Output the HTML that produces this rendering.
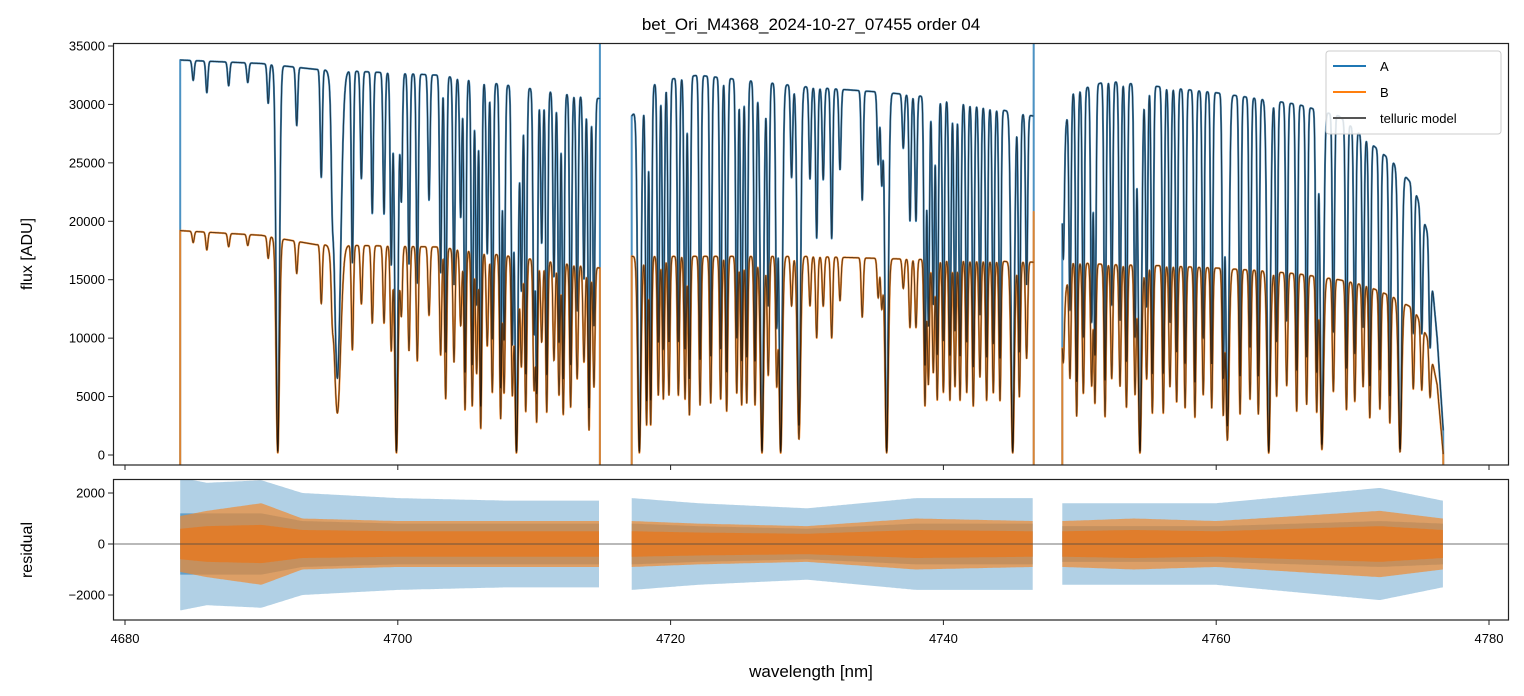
<!DOCTYPE html>
<html><head><meta charset="utf-8">
<style>
body{margin:0;background:#fff;}
svg{display:block;font-family:"Liberation Sans","DejaVu Sans",sans-serif;}
</style></head>
<body>
<svg id="chart" width="1524" height="696" viewBox="0 0 1524 696" xmlns="http://www.w3.org/2000/svg">
<defs>
<clipPath id="cTop"><rect x="113" y="43" width="1396" height="422"/></clipPath>
<clipPath id="cBot"><rect x="113" y="479" width="1396" height="141"/></clipPath>
</defs>
<rect x="0" y="0" width="1524" height="696" fill="#fff"/>
<text x="811" y="30" text-anchor="middle" font-size="17" fill="#000">bet_Ori_M4368_2024-10-27_07455  order 04</text>
<g id="topPlot" clip-path="url(#cTop)"></g>
<g id="botPlot" clip-path="url(#cBot)"></g>
<g id="axes"></g>
<text x="811" y="677" text-anchor="middle" font-size="17">wavelength [nm]</text>
<text transform="translate(32,254) rotate(-90)" text-anchor="middle" font-size="16">flux [ADU]</text>
<text transform="translate(32,550) rotate(-90)" text-anchor="middle" font-size="16">residual</text>
<g>
<rect x="1326" y="51" width="175" height="83" rx="3" fill="#fff" fill-opacity="0.85" stroke="#ccc"/>
<g><line x1="1333" y1="66" x2="1366" y2="66" stroke="#1f77b4" stroke-width="2"/><text x="1380" y="71" font-size="13">A</text></g>
<g><line x1="1333" y1="92" x2="1366" y2="92" stroke="#ff7f0e" stroke-width="2"/><text x="1380" y="97" font-size="13">B</text></g>
<g><line x1="1333" y1="118" x2="1366" y2="118" stroke="#555" stroke-width="2"/><text x="1380" y="123" font-size="13">telluric model</text></g>
</g>
</svg>
<script>
// ---- data ----
var xTicks = [4680, 4700, 4720, 4740, 4760, 4780];
var yTicksFlux = [0, 5000, 10000, 15000, 20000, 25000, 30000, 35000];
var yTicksRes = [-2000, 0, 2000];
var segStart = [4684.05, 4717.15, 4748.72];
var segEnd = [4714.82, 4746.62, 4776.65];
var contWl = [4684.05, 4690, 4694, 4703, 4714.82, 4717.15, 4719, 4722, 4730, 4736, 4740, 4746.62, 4748.72, 4749.3, 4752, 4756, 4760, 4763, 4766, 4769, 4771, 4773, 4774.5, 4775.5, 4776.2, 4776.65];
var contA = [33800, 33500, 33000, 32500, 30500, 29000, 32000, 32500, 31500, 31000, 30500, 29000, 26000, 31000, 32000, 31500, 31000, 30500, 30000, 29000, 27000, 25000, 23000, 19000, 10000, 2000];
var contB = [19200, 18800, 18000, 17800, 16000, 17000, 17000, 17000, 17000, 16800, 16700, 16500, 12000, 16500, 16300, 16200, 16000, 15800, 15500, 15000, 14500, 13500, 12500, 10000, 6000, 0];
var lineWl = [4685.0,4686.0,4687.6,4689.0,4690.5,4691.2,4692.59,4694.39,4695.20,4695.57,4696.67,4697.33,4698.13,4698.99,4699.52,4699.9,4700.26,4700.82,4701.43,4702.29,4703.14,4703.51,4704.12,4704.61,4704.93,4705.46,4705.78,4706.08,4706.56,4706.93,4707.54,4707.79,4708.40,4708.7,4709.06,4709.38,4709.99,4710.18,4710.55,4710.92,4711.45,4711.82,4712.13,4712.67,4713.15,4713.65,4714.02,4714.38,
4717.71,4718.24,4718.54,4719.1,4719.47,4719.88,4720.57,4721.06,4721.38,4722.16,4722.94,4723.67,4724.11,4724.85,4725.21,4725.58,4726.19,4726.70,4727.16,4727.78,4728.07,4728.87,4729.41,4730.22,4730.71,4731.19,4731.81,4732.42,4734.05,4735.22,4735.48,4735.84,4737.06,4737.55,4737.99,4738.65,4738.9,4739.26,4739.55,4740.0,4740.48,4740.85,4741.22,4741.71,4742.19,4742.68,4743.17,4743.66,4744.15,4745.08,4745.57,4746.1,
4748.79,4749.28,4749.77,4750.26,4750.87,4751.11,4751.85,4752.34,4752.95,4753.42,4754.05,4754.41,4754.9,4755.32,4756.12,4756.61,4757.1,4757.72,4758.44,4759.05,4759.67,4760.52,4760.82,4761.75,4762.48,4763.09,4763.85,4764.43,4765.17,4765.9,4766.63,4767.37,4767.75,4768.59,4769.55,4770.16,4770.77,4771.26,4772.0,4772.73,4773.48,4774.45,4775.07,4775.68];
var lineDepth = [0.05,0.08,0.06,0.05,0.1,0.99,0.15,0.28,0.2,0.8,0.5,0.28,0.37,0.37,0.5,0.99,0.33,0.5,0.55,0.33,0.52,0.73,0.55,0.37,0.78,0.76,0.6,0.87,0.46,0.69,0.82,0.69,0.69,0.99,0.55,0.78,0.66,0.83,0.42,0.78,0.51,0.69,0.79,0.75,0.6,0.51,0.87,0.64,
0.99,0.85,0.85,0.7,0.72,0.7,0.7,0.72,0.8,0.75,0.74,0.72,0.78,0.69,0.75,0.74,0.75,0.99,0.6,0.64,0.99,0.25,0.92,0.25,0.41,0.25,0.41,0.22,0.3,0.2,0.25,0.99,0.15,0.35,0.35,0.75,0.64,0.58,0.72,0.68,0.72,0.65,0.72,0.68,0.75,0.6,0.72,0.68,0.72,0.99,0.7,0.5,
0.37,0.6,0.8,0.68,0.64,0.73,0.8,0.6,0.64,0.75,0.68,0.99,0.6,0.78,0.78,0.64,0.72,0.75,0.8,0.68,0.75,0.78,0.92,0.78,0.7,0.78,0.99,0.68,0.62,0.76,0.72,0.76,0.97,0.64,0.74,0.69,0.6,0.78,0.72,0.8,0.98,0.55,0.5,0.45];
var spikeWl = [4714.82, 4746.62];
var spikeA = [36000, 36000];
var spikeB = [16000, 20800];
var resWl = [4684.1,4686,4690,4693,4700,4708,4714.8, 4717.2,4722,4730,4738,4746.6, 4748.8,4754,4760,4766,4772,4776.6];
var resAOuter = [2600,2400,2500,2000,1800,1700,1700, 1800,1600,1400,1800,1800, 1600,1600,1600,1900,2200,1700];
var resACore = [1200,1200,1200,900,800,800,800, 800,700,600,800,800, 700,700,700,800,900,800];
var resBOuter = [1100,1300,1600,1000,900,900,900, 900,800,700,1000,900, 900,1000,900,1100,1300,1000];
var resBCore = [600,700,750,550,500,500,500, 500,450,400,550,500, 500,550,500,600,700,550];

// ---- scales ----
var X0=113, X1=1509;
function xs(w){ return 125 + (w-4680)*13.64; }
function yf(v){ return 455 - v*0.011686; }
function yr(v){ return 544 - v*0.0255; }
var NS="http://www.w3.org/2000/svg";
function mk(tag, attrs, parent){ var e=document.createElementNS(NS,tag); for(var k in attrs) e.setAttribute(k,attrs[k]); parent.appendChild(e); return e; }
function interp(w, xsArr, ys){
  if(w<=xsArr[0]) return ys[0];
  for(var i=1;i<xsArr.length;i++){ if(w<=xsArr[i]){ var t=(w-xsArr[i-1])/(xsArr[i]-xsArr[i-1]); return ys[i-1]+t*(ys[i]-ys[i-1]); } }
  return ys[ys.length-1];
}
function segKnots(s, arr){ var xw=[], yv=[]; for(var i=0;i<contWl.length;i++){ if(contWl[i]>=segStart[s]-1e-6 && contWl[i]<=segEnd[s]+1e-6){ xw.push(contWl[i]); yv.push(arr[i]); } } return [xw,yv]; }
function resKnots(s, arr){ var xw=[], yv=[]; for(var i=0;i<resWl.length;i++){ if(resWl[i]>=segStart[s]-0.2 && resWl[i]<=segEnd[s]+0.2){ xw.push(resWl[i]); yv.push(arr[i]); } } return [xw,yv]; }
function trans(w){
  var t=1;
  for(var i=0;i<lineWl.length;i++){
    var d=lineDepth[i]||0; var sg = d>0.9 ? 0.12 : ((lineWl[i]>4695.4&&lineWl[i]<4695.7) ? 0.24 : 0.075);
    var dx=(w-lineWl[i])/sg; if(dx*dx<30) t*=1-d*Math.exp(-0.5*dx*dx);
  }
  return t;
}
var topG=document.getElementById('topPlot'), botG=document.getElementById('botPlot');
var step=0.012;
var pathA='', pathB='', pathMA='', pathMB='';
for(var s=0;s<segStart.length;s++){
  var kA=segKnots(s,contA), kB=segKnots(s,contB);
  var pa='M'+xs(segStart[s]).toFixed(1)+','+yf(-1500).toFixed(1), pb='M'+xs(segStart[s]).toFixed(1)+','+yf(-1500).toFixed(1), ma='', mb='';
  for(var w=segStart[s]; w<=segEnd[s]; w+=step){
    var t=trans(w);
    var a=interp(w,kA[0],kA[1])*t, b=interp(w,kB[0],kB[1])*t;
    var X=xs(w).toFixed(1);
    pa+='L'+X+','+yf(a).toFixed(1); pb+='L'+X+','+yf(b).toFixed(1);
    ma+=(ma?'L':'M')+X+','+yf(a).toFixed(1); mb+=(mb?'L':'M')+X+','+yf(b).toFixed(1);
  }
  var xe=xs(segEnd[s]).toFixed(1);
  for(var k=0;k<spikeWl.length;k++){ if(Math.abs(spikeWl[k]-segEnd[s])<0.01){ pa+='L'+xe+','+yf(spikeA[k]).toFixed(1); pb+='L'+xe+','+yf(spikeB[k]).toFixed(1); } }
  pa+='L'+xe+','+yf(-1500).toFixed(1); pb+='L'+xe+','+yf(-1500).toFixed(1);
  pathA+=pa; pathB+=pb; pathMA+=ma; pathMB+=mb;
}
var eA=mk('path',{d:pathA,fill:'none',stroke:'#1f77b4','stroke-opacity':0.8,'stroke-width':2,'stroke-linejoin':'round'},topG);


var eB=mk('path',{d:pathB,fill:'none',stroke:'#ff7f0e','stroke-opacity':0.8,'stroke-width':2,'stroke-linejoin':'round'},topG);


var eMA=mk('path',{d:pathMA,fill:'none',stroke:'#000','stroke-opacity':0.6,'stroke-width':1.1},topG);


var eMB=mk('path',{d:pathMB,fill:'none',stroke:'#000','stroke-opacity':0.6,'stroke-width':1.1},topG);



// residual bands
function band(arr, color, op, name){
  var d='';
  for(var s=0;s<segStart.length;s++){
    var k=resKnots(s,arr); var up='', dn=[];
    for(var w=segStart[s]; w<=segEnd[s]; w+=0.1){
      var v=interp(w,k[0],k[1]); var X=xs(w).toFixed(1);
      up+=(up?'L':'M')+X+','+yr(v).toFixed(1); dn.push(X+','+yr(-v).toFixed(1));
    }
    d+=up+'L'+dn.reverse().join('L')+'Z';
  }
  var e=mk('path',{d:d,fill:color,'fill-opacity':op,stroke:'none'},botG);
  
  
}
band(resAOuter,'#1f77b4',0.35,'residual-a-outer');
band(resACore,'#1f77b4',0.55,'residual-a-core');
band(resBOuter,'#f08a30',0.7,'residual-b-outer');
band(resBCore,'#e07d2c',1,'residual-b-core');
var z=mk('line',{x1:X0,x2:X1,y1:yr(0),y2:yr(0),stroke:'#444','stroke-width':0.8},botG);



// axes
var ax=document.getElementById('axes');
var f1=mk('rect',{x:113.5,y:43.5,width:1395,height:421.5,fill:'none',stroke:'#222','stroke-width':1.2},ax);


var f2=mk('rect',{x:113.5,y:479.5,width:1395,height:140.5,fill:'none',stroke:'#222','stroke-width':1.2},ax);


xTicks.forEach(function(v){
  var X=xs(v);
  var t1=mk('line',{x1:X,x2:X,y1:465,y2:470,stroke:'#222','stroke-width':1},ax);
  
  
  var t2=mk('line',{x1:X,x2:X,y1:620,y2:625,stroke:'#222','stroke-width':1},ax);
  
  
  var tl=mk('text',{x:X,y:643,'text-anchor':'middle','font-size':13},ax); tl.textContent=v;
  
  
});
yTicksFlux.forEach(function(v){
  var Y=yf(v);
  var t=mk('line',{x1:108,x2:113,y1:Y,y2:Y,stroke:'#222','stroke-width':1},ax);
  
  
  var tl=mk('text',{x:105,y:Y+4.5,'text-anchor':'end','font-size':13},ax); tl.textContent=v;
  
  
});
yTicksRes.forEach(function(v){
  var Y=yr(v);
  var t=mk('line',{x1:108,x2:113,y1:Y,y2:Y,stroke:'#222','stroke-width':1},ax);
  
  
  var tl=mk('text',{x:105,y:Y+4.5,'text-anchor':'end','font-size':13},ax); tl.textContent=(v<0?'\u2212'+(-v):v);
  
  
});
</script>
</body></html>
